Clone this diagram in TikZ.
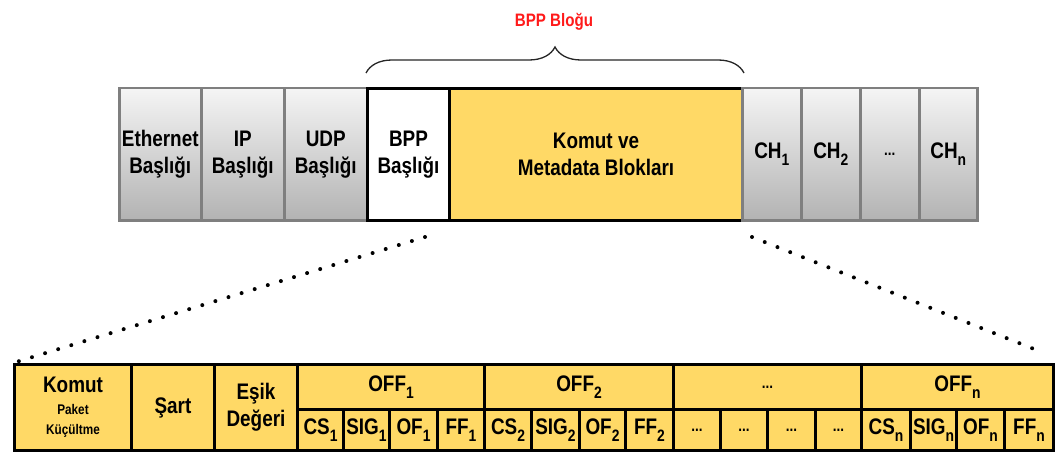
\documentclass[tikz,border=0pt]{standalone}
\usepackage{fontspec}
\setmainfont{Liberation Sans}[FakeStretch=0.84]
\usetikzlibrary{decorations.pathreplacing}
\definecolor{cellyellow}{HTML}{FFD966}
\definecolor{cellgray}{HTML}{7F7F7F}
\definecolor{lblred}{HTML}{FF1A1A}
\newcommand\sbx[1]{\raisebox{-0.3em}{\fontsize{16.5}{16.5}\selectfont #1}}
\newcommand\smallfs{\fontsize{14}{17}\selectfont}
\newcommand\ellfs{\fontsize{16}{16}\selectfont}
\begin{document}
\begin{tikzpicture}[x=1pt,y=-1pt,
  cell/.style={rectangle, anchor=north west, inner sep=0pt, align=center,
    font=\bfseries\fontsize{22.5}{27}\selectfont, text=black},
  graycell/.style={cell, draw=cellgray, line width=2.5pt, top color=black!4, bottom color=black!30},
  whitecell/.style={cell, draw=black, line width=3pt, fill=white},
  ycell/.style={cell, draw=black, line width=3pt, fill=cellyellow},
  dotline/.style={line width=4pt, line cap=round, dash pattern=on 0pt off 13.7pt},
  bracestyle/.style={decorate, decoration={brace, amplitude=26pt}, line width=1.3pt, draw=black!85},
  redlabel/.style={font=\bfseries\fontsize{18}{18}\selectfont, text=lblred}]
\useasboundingbox (0,0) rectangle (1064,457);
% top row
\node[graycell, minimum width=82, minimum height=132] (eth) at (118,87) {Ethernet\\Başlığı};
\node[graycell, minimum width=83, minimum height=132] (ip) at (200,87) {IP\\Başlığı};
\node[graycell, minimum width=83, minimum height=132] (udp) at (283,87) {UDP\\Başlığı};
\node[ycell, minimum width=293, minimum height=132] (kom) at (448,87) {Komut ve\\Metadata Blokları};
\node[whitecell, minimum width=82, minimum height=132] (bpp) at (366,87) {BPP\\Başlığı};
\node[graycell, minimum width=59, minimum height=132] (ch1) at (741,87) {CH\sbx{1}};
\node[graycell, minimum width=59, minimum height=132] (ch2) at (800,87) {CH\sbx{2}};
\node[graycell, minimum width=59, minimum height=132] (chd) at (859,87) {\ellfs ...};
\node[graycell, minimum width=58, minimum height=132] (chn) at (918,87) {CH\sbx{n}};
% brace and label
\draw[bracestyle] ([yshift=14pt]bpp.north west) -- ([yshift=14pt]kom.north east);
\node[redlabel] (blk) at (554,22) {BPP Bloğu};
% bottom row
\node[ycell, minimum width=117, minimum height=86] (bk) at (13,363) {Komut\\[-5pt]\smallfs Paket\\[-7pt]\smallfs Küçültme};
\node[ycell, minimum width=83, minimum height=86] (sart) at (130,363) {Şart};
\node[ycell, minimum width=83, minimum height=86] (esik) at (213,363) {Eşik\\Değeri};
\node[ycell, minimum width=187, minimum height=45] (off1) at (296,363) {OFF\sbx{1}};
\node[ycell, minimum width=189, minimum height=45] (off2) at (483,363) {OFF\sbx{2}};
\node[ycell, minimum width=188, minimum height=45] (offd) at (672,363) {\ellfs ...};
\node[ycell, minimum width=192, minimum height=45] (offn) at (860,363) {OFF\sbx{n}};
% sub cells
\node[ycell, minimum width=46, minimum height=41] (cs1) at (296,408) {CS\sbx{1}};
\node[ycell, minimum width=46, minimum height=41] (sig1) at (342,408) {SIG\sbx{1}};
\node[ycell, minimum width=48, minimum height=41] (of1) at (388,408) {OF\sbx{1}};
\node[ycell, minimum width=47, minimum height=41] (ff1) at (436,408) {FF\sbx{1}};
\node[ycell, minimum width=47, minimum height=41] (cs2) at (483,408) {CS\sbx{2}};
\node[ycell, minimum width=48, minimum height=41] (sig2) at (530,408) {SIG\sbx{2}};
\node[ycell, minimum width=46, minimum height=41] (of2) at (578,408) {OF\sbx{2}};
\node[ycell, minimum width=48, minimum height=41] (ff2) at (624,408) {FF\sbx{2}};
\node[ycell, minimum width=47, minimum height=41] (d1) at (672,408) {\ellfs ...};
\node[ycell, minimum width=47, minimum height=41] (d2) at (719,408) {\ellfs ...};
\node[ycell, minimum width=48, minimum height=41] (d3) at (766,408) {\ellfs ...};
\node[ycell, minimum width=46, minimum height=41] (d4) at (814,408) {\ellfs ...};
\node[ycell, minimum width=49, minimum height=41] (csn) at (860,408) {CS\sbx{n}};
\node[ycell, minimum width=46, minimum height=41] (sign) at (909,408) {SIG\sbx{n}};
\node[ycell, minimum width=48, minimum height=41] (ofn) at (955,408) {OF\sbx{n}};
\node[ycell, minimum width=49, minimum height=41] (ffn) at (1003,408) {FF\sbx{n}};
% dotted zoom lines
\coordinate (dl) at (425,237);
\coordinate (dr) at (752,237);
\coordinate (dre) at (1034,349);
\draw[dotline] (dl) -- (bk.north west);
\draw[dotline] (dr) -- (dre);
\end{tikzpicture}
\end{document}
